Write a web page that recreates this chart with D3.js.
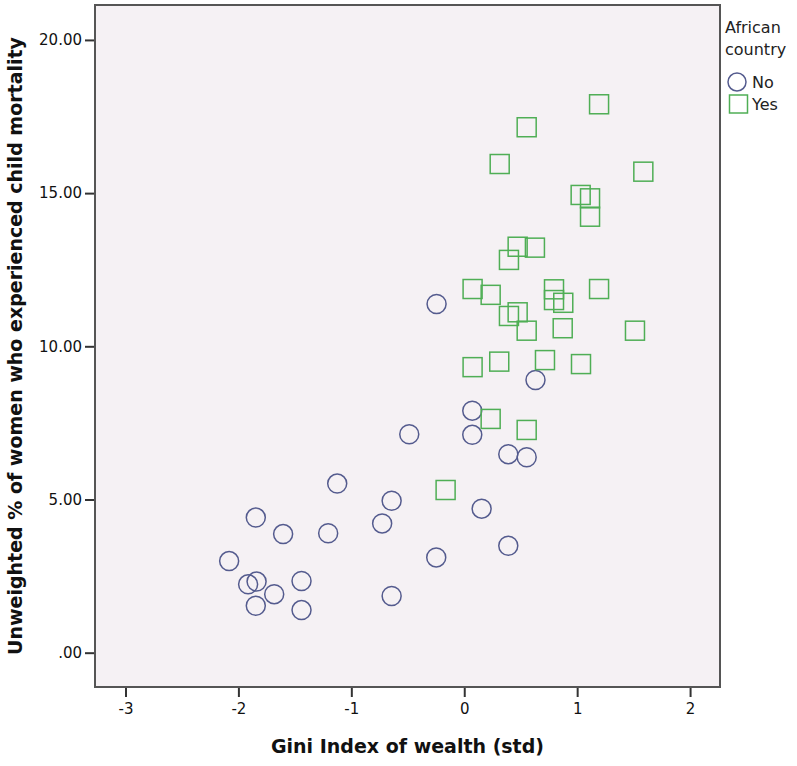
<!DOCTYPE html>
<html>
<head>
<meta charset="utf-8">
<script src="https://cdn.jsdelivr.net/npm/d3@7"></script>
<style>
  body { margin: 0; background: #fff; }
  svg { display: block; }
</style>
</head>
<body>
<div id="chart"></div>
<script>
// Gini index (std) and child mortality %, split by "African country"
const noGini = [-0.245, 0.631, 0.071, 0.071, -0.487, 0.390, 0.553, -1.125, -0.643, -0.727,
  0.154, -1.846, -1.604, -1.205, -2.082, -0.248, 0.390, -1.914, -1.839, -1.846,
  -1.683, -1.441, -1.441, -0.643];
const noMortality = [11.38, 8.90, 7.90, 7.11, 7.13, 6.48, 6.38, 5.52, 4.96, 4.22,
  4.70, 4.41, 3.87, 3.90, 2.99, 3.11, 3.49, 2.23, 2.32, 1.53,
  1.91, 2.34, 1.39, 1.85];

const yesGini = [1.194, 0.553, 0.314, 1.586, 1.031, 1.114, 1.114, 0.473, 0.626, 0.396,
  0.074, 0.234, 0.795, 0.795, 0.877, 1.194, 0.396, 0.473, 0.553, 0.872,
  1.512, 0.074, 0.310, 0.715, 1.034, 0.234, 0.553, -0.165];
const yesMortality = [17.90, 17.15, 15.95, 15.70, 14.94, 14.83, 14.23, 13.25, 13.22, 12.82,
  11.87, 11.68, 11.86, 11.51, 11.42, 11.87, 10.99, 11.11, 10.51, 10.59,
  10.51, 9.32, 9.50, 9.55, 9.42, 7.63, 7.27, 5.31];

const xTicks = [-3, -2, -1, 0, 1, 2];
const yTicks = [0, 5, 10, 15, 20];
const legendLabels = ["No", "Yes"];

const width = 797, height = 766;
const plotL = 95, plotT = 5, plotR = 720, plotB = 687;

const svg = d3.select("#chart").append("svg")
  .attr("width", width)
  .attr("height", height);

const x = d3.scaleLinear().domain([-3.27, 2.265]).range([plotL, plotR]);
const y = d3.scaleLinear().domain([-1.12, 21.14]).range([plotB, plotT]);

// plot background
svg.append("rect")
  .attr("x", plotL).attr("y", plotT)
  .attr("width", plotR - plotL).attr("height", plotB - plotT)
  .attr("fill", "#f5f1f4");

// axes (SPSS style: "-3" with a plain hyphen, ".00" for zero)
const fmtY = d => d === 0 ? ".00" : d.toFixed(2);
const fmtX = d => String(d);

const gx = svg.append("g")
  .attr("transform", `translate(0,${plotB})`)
  .call(d3.axisBottom(x).tickValues(xTicks).tickFormat(fmtX).tickSize(10).tickPadding(6));
const gy = svg.append("g")
  .attr("transform", `translate(${plotL},0)`)
  .call(d3.axisLeft(y).tickValues(yTicks).tickFormat(fmtY).tickSize(10).tickPadding(3));

[gx, gy].forEach(g => {
  g.select(".domain").remove();
  g.selectAll(".tick line").attr("stroke", "#333").attr("stroke-width", 2);
  g.selectAll(".tick text")
    .attr("fill", "#111")
    .style("font-family", "DejaVu Sans, sans-serif")
    .style("font-size", "15px");
});

// frame
svg.append("rect")
  .attr("x", plotL).attr("y", plotT)
  .attr("width", plotR - plotL).attr("height", plotB - plotT)
  .attr("fill", "none")
  .attr("stroke", "#555")
  .attr("stroke-width", 2);

// markers
const noColor = "#545b8e";
const yesColor = "#4fae55";
const side = 19;

svg.append("g").selectAll("circle")
  .data(noGini.map((g, i) => [g, noMortality[i]]))
  .join("circle")
  .attr("cx", d => x(d[0]))
  .attr("cy", d => y(d[1]))
  .attr("r", 9.5)
  .attr("fill", "none")
  .attr("stroke", noColor)
  .attr("stroke-width", 1.5);

svg.append("g").selectAll("rect")
  .data(yesGini.map((g, i) => [g, yesMortality[i]]))
  .join("rect")
  .attr("x", d => x(d[0]) - side / 2)
  .attr("y", d => y(d[1]) - side / 2)
  .attr("width", side)
  .attr("height", side)
  .attr("fill", "none")
  .attr("stroke", yesColor)
  .attr("stroke-width", 1.5);

// axis titles
svg.append("text")
  .attr("x", (plotL + plotR) / 2)
  .attr("y", 753)
  .attr("text-anchor", "middle")
  .style("font-family", "DejaVu Sans, sans-serif")
  .style("font-size", "19px")
  .style("font-weight", "bold")
  .attr("fill", "#111")
  .text("Gini Index of wealth (std)");

svg.append("text")
  .attr("transform", `translate(22,${(plotT + plotB) / 2}) rotate(-90)`)
  .attr("text-anchor", "middle")
  .style("font-family", "DejaVu Sans, sans-serif")
  .style("font-size", "19px")
  .style("font-weight", "bold")
  .attr("fill", "#111")
  .text("Unweighted % of women who experienced child mortality");

// legend
const lg = svg.append("g")
  .style("font-family", "DejaVu Sans, sans-serif")
  .style("font-size", "16px")
  .attr("fill", "#222");
lg.append("text").attr("x", 725).attr("y", 33).text("African");
lg.append("text").attr("x", 725).attr("y", 55).text("country");

lg.append("circle")
  .attr("cx", 737).attr("cy", 82).attr("r", 9)
  .attr("fill", "none").attr("stroke", noColor).attr("stroke-width", 1.5);
lg.append("rect")
  .attr("x", 729.5).attr("y", 95).attr("width", 18).attr("height", 18)
  .attr("fill", "none").attr("stroke", yesColor).attr("stroke-width", 1.5);
lg.append("text").attr("x", 752).attr("y", 88).text(legendLabels[0]);
lg.append("text").attr("x", 752).attr("y", 110).text(legendLabels[1]);
</script>
</body>
</html>
